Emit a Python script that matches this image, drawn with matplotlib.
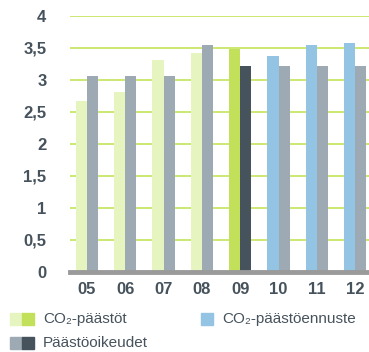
import numpy as np
import matplotlib
matplotlib.use('Agg')
import matplotlib.pyplot as plt
from matplotlib.patches import Rectangle

years = ['05', '06', '07', '08', '09', '10', '11', '12']
emissions = [2.67, 2.82, 3.32, 3.42, 3.48, 3.37, 3.55, 3.58]
allowances = [3.07, 3.07, 3.07, 3.55, 3.22, 3.22, 3.22, 3.22]
# 05-08 past, 09 current year, 10-12 forecast
emission_colors = ['#e6f5c0'] * 4 + ['#c2e05a'] + ['#93c4e4'] * 3
allowance_colors = ['#9eaab3'] * 4 + ['#46525c'] + ['#9eaab3'] * 3
yticks = [0, 0.5, 1, 1.5, 2, 2.5, 3, 3.5, 4]
ytick_labels = ['0', '0,5', '1', '1,5', '2', '2,5', '3', '3,5', '4']

text_col = '#46525c'
plt.rcParams['font.family'] = ['Liberation Sans', 'DejaVu Sans']

fig = plt.figure(figsize=(3.69, 3.52), dpi=100)
ax = fig.add_axes([70 / 369, 80 / 352, 299 / 369, 256 / 352])

x = np.arange(len(years))
w = 0.29
ax.bar(x - w / 2, emissions, w, color=emission_colors, zorder=3)
ax.bar(x + w / 2, allowances, w, color=allowance_colors, zorder=3)

ax.set_xlim(-0.44, 7.36)
ax.set_ylim(0, 4)
ax.set_yticks(yticks)
ax.set_yticklabels(ytick_labels)
ax.set_xticks(x)
ax.set_xticklabels(years)
ax.grid(axis='y', color='#c5e45a', linewidth=1.2, zorder=0)
ax.axhline(0, color='#9a9a9a', linewidth=3.5, zorder=4, clip_on=False)
for s in ax.spines.values():
    s.set_visible(False)
ax.tick_params(length=0, labelcolor=text_col, labelsize=12)
ax.tick_params(axis='y', pad=17)
ax.tick_params(axis='x', pad=7)
for lab in ax.get_xticklabels() + ax.get_yticklabels():
    lab.set_fontweight('bold')

# legend drawn by hand, squares in pixel coords
def sq(px, py, col):
    fig.patches.append(Rectangle((px / 369, 1 - (py + 12) / 352), 12 / 369, 12 / 352,
                                 transform=fig.transFigure, color=col, figure=fig))

sq(10, 313, '#e6f5c0'); sq(22, 313, '#c2e05a')
sq(201, 313, '#93c4e4')
sq(10, 337, '#9eaab3'); sq(22, 337, '#46525c')
fig.text(43 / 369, 1 - 319 / 352, 'CO₂-päästöt', color=text_col, fontsize=11, va='center')
fig.text(222 / 369, 1 - 319 / 352, 'CO₂-päästöennuste', color=text_col, fontsize=11, va='center')
fig.text(43 / 369, 1 - 343 / 352, 'Päästöoikeudet', color=text_col, fontsize=11, va='center')

fig.savefig('out.png', dpi=100)
